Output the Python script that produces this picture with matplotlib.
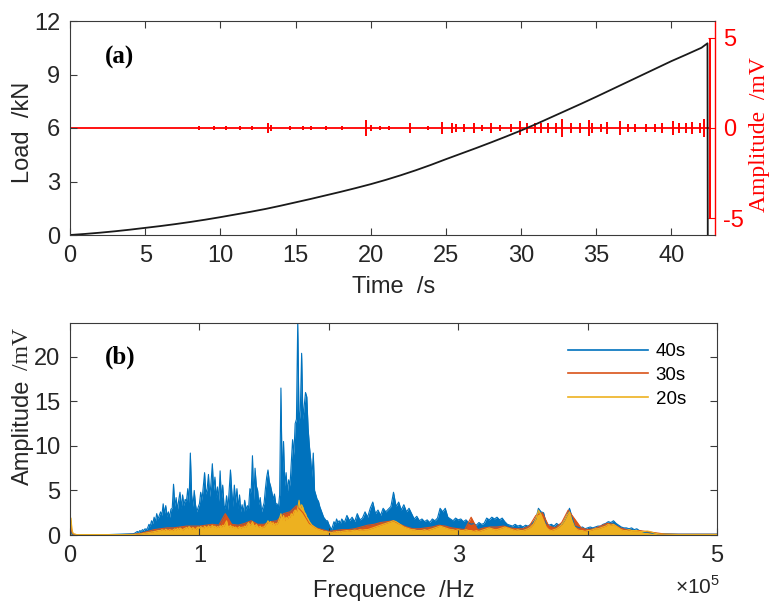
import numpy as np
import matplotlib
matplotlib.use("Agg")
import matplotlib.pyplot as plt
from matplotlib.lines import Line2D

plt.rcParams['font.family'] = ['Liberation Sans', 'DejaVu Sans']
plt.rcParams['axes.unicode_minus'] = False
plt.rcParams['mathtext.fontset'] = 'custom'
plt.rcParams['mathtext.rm'] = 'Liberation Sans'

# ---------------- (a) load / AE amplitude vs time ----------------
time_s = [0, 1, 2, 3, 4, 5, 6, 7, 8, 9, 10, 11, 12, 13, 14, 15, 16, 17, 18, 19, 20,
          21, 22, 23, 24, 25, 26, 27, 28, 29, 30, 31, 32, 33, 34, 35, 36, 37, 38, 39,
          40, 41, 42, 42.4, 42.42]
load_kN = [0.0, 0.06, 0.13, 0.21, 0.30, 0.40, 0.50, 0.61, 0.73, 0.86, 1.00, 1.15, 1.30,
           1.46, 1.64, 1.83, 2.02, 2.22, 2.42, 2.63, 2.85, 3.09, 3.35, 3.63, 3.93, 4.25,
           4.56, 4.87, 5.19, 5.52, 5.86, 6.22, 6.60, 6.98, 7.36, 7.75, 8.15, 8.55, 8.95,
           9.35, 9.75, 10.12, 10.50, 10.75, -0.5]

burst_t = [8.6, 9.6, 10.4, 11.3, 12.1, 13.2, 13.4, 14.6, 15.5, 16.0, 17.0, 18.1, 19.7,
           20.0, 20.6, 21.2, 22.6, 23.8, 24.75, 25.4, 25.7, 26.2, 26.9, 27.4, 28.0, 28.6,
           29.3, 29.9, 30.4, 30.9, 31.3, 31.8, 32.3, 32.7, 33.3, 33.9, 34.5, 34.7, 35.3,
           35.7, 36.6, 37.1, 37.6, 38.3, 38.9, 39.4, 40.1, 40.5, 41.0, 41.4, 41.9, 42.2,
           42.58]
burst_mV = [0.1, 0.1, 0.1, 0.1, 0.1, 0.25, 0.15, 0.1, 0.1, 0.1, 0.1, 0.1, 0.45,
            0.15, 0.1, 0.1, 0.3, 0.1, 0.35, 0.25, 0.2, 0.2, 0.25, 0.15, 0.25, 0.15,
            0.2, 0.4, 0.3, 0.3, 0.25, 0.3, 0.25, 0.5, 0.3, 0.25, 0.45, 0.3, 0.2,
            0.35, 0.4, 0.2, 0.2, 0.2, 0.2, 0.25, 0.4, 0.3, 0.3, 0.35, 0.3, 0.5,
            5.0]
signal_end_s = 42.58

# ---------------- (b) spectra ----------------
F_START = [0.0, 0.008, 0.015, 0.025, 0.05, 0.1, 0.2, 0.3, 0.4, 0.49]
F_LO = np.arange(50, 210) / 100.0          # 0.50 ... 2.09 (x1e5 Hz)
F_HI = np.arange(105, 230) * 0.02          # 2.10 ... 4.58
F_END = [4.7, 4.8, 4.9, 5.0]
F_COARSE = np.arange(10, 93) * 0.05        # 0.50 ... 4.60

A40_START = [0.3, 0.4, 0.1, 0.05, 0.05, 0.05, 0.05, 0.05, 0.1, 0.15]
A40_LO = [0.2, 0.3, 0.4, 0.3, 0.5, 0.4, 0.6, 0.5, 0.7, 0.6,
          0.8, 1.2, 1.0, 1.6, 1.3, 2.0, 1.5, 2.4, 1.8, 2.2,
          2.6, 2.2, 3.5, 2.4, 3.3, 2.1, 2.6, 2.0, 2.9, 3.0,
          5.7, 3.2, 4.2, 2.8, 3.9, 4.8, 3.0, 4.5, 3.3, 4.0,
          3.8, 5.2, 3.6, 9.2, 4.5, 3.2, 5.0, 3.4, 2.6, 3.1,
          3.5, 4.8, 3.9, 5.5, 7.0, 4.6, 5.2, 6.8, 4.3, 5.9,
          8.0, 5.0, 6.5, 4.2, 5.4, 3.8, 7.2, 4.0, 5.6, 3.3,
          3.0, 4.4, 2.8, 5.0, 7.3, 4.9, 3.2, 5.6, 3.6, 5.2,
          3.0, 4.5, 2.6, 3.4, 2.5, 3.9, 2.8, 3.3, 3.0, 5.2,
          4.8, 8.9, 3.9, 7.5, 5.5, 5.0, 3.4, 4.2, 2.6, 3.1,
          3.6, 5.2, 6.5, 7.3, 6.0, 5.5, 4.8, 4.0, 4.6, 3.5,
          3.5, 3.0, 4.5, 16.5, 6.0, 10.5, 5.5, 7.0, 4.8, 6.2,
          5.5, 8.0, 10.7, 9.0, 12.5, 13.0, 24.0, 12.5, 14.0, 20.4,
          13.0, 14.5, 16.0, 15.5, 12.0, 10.0, 8.5, 6.5, 9.2, 5.0,
          4.5, 4.0, 3.8, 3.2, 2.8, 2.4, 2.0, 1.8, 1.6, 1.6,
          1.2, 0.9, 0.6, 1.0, 1.5, 1.2, 1.8, 1.4, 1.6, 1.3]
A40_HI = [1.8, 1.4, 2.2, 1.6, 2.0, 1.5, 2.4, 1.7, 1.9, 2.6,
          2.0, 3.0, 3.7, 2.4, 2.8, 2.2, 3.0, 2.6, 2.9, 3.2,
          4.8, 3.2, 3.7, 2.8, 3.4, 2.6, 3.0, 2.4, 1.8, 2.1,
          1.6, 1.8, 1.5, 1.7, 1.4, 1.8, 1.6, 1.9, 3.0, 2.6,
          3.0, 2.0, 1.8, 1.6, 1.9, 1.7, 1.8, 1.5, 1.7, 1.4,
          1.2, 1.3, 1.1, 1.4, 1.2, 1.3, 1.9, 1.7, 2.0, 1.8,
          2.0, 1.7, 1.9, 1.5, 1.2, 1.1, 1.0, 1.2, 1.0, 1.1,
          0.9, 1.1, 1.0, 1.2, 1.4, 1.8, 3.0, 2.6, 2.5, 1.3,
          1.1, 1.2, 1.0, 1.3, 1.1, 1.2, 1.6, 2.2, 3.0, 2.0,
          1.0, 0.9, 0.8, 0.9, 0.7, 0.8, 0.9, 0.8, 0.9, 1.0,
          1.0, 1.2, 1.3, 1.5, 1.4, 1.6, 1.3, 1.1, 0.9, 0.8,
          0.8, 0.7, 0.8, 0.6, 0.7, 0.5, 0.4, 0.3, 0.3, 0.25,
          0.2, 0.2, 0.15, 0.15, 0.15]
A40_END = [0.1, 0.1, 0.1, 0.1]

A30_START = [0.6, 1.2, 0.3, 0.1, 0.05, 0.05, 0.05, 0.05, 0.05, 0.08]
A30_COARSE = [0.1, 0.2, 0.4, 0.6, 0.7, 0.8, 0.8, 0.9, 1.0, 1.0,
              1.0, 1.1, 1.2, 1.1, 2.4, 1.2, 1.1, 1.3, 1.6, 1.2,
              1.2, 1.5, 1.6, 2.4, 2.6, 3.3, 2.5, 1.3, 0.8, 0.6,
              0.4, 0.5, 0.6, 0.6, 0.7, 0.9, 1.1, 1.2, 1.4, 1.5,
              1.6, 1.2, 0.9, 0.7, 0.7, 0.8, 0.9, 1.1, 1.0, 0.8,
              0.7, 0.6, 2.0, 0.6, 0.8, 0.9, 0.9, 1.0, 0.8, 0.7,
              0.7, 1.0, 2.2, 2.5, 1.0, 0.8, 1.4, 2.8, 1.8, 0.8,
              0.6, 0.7, 1.0, 1.3, 1.2, 0.8, 0.6, 0.5, 0.5, 0.4,
              0.3, 0.2, 0.1]
A30_END = [0.08, 0.08, 0.08, 0.08]

A20_START = [1.0, 1.9, 0.6, 0.15, 0.05, 0.05, 0.05, 0.05, 0.05, 0.05]
A20_LO = [0.05, 0.08, 0.1, 0.1, 0.12, 0.15, 0.15, 0.2, 0.2, 0.25,
          0.25, 0.3, 0.3, 0.35, 0.35, 0.4, 0.4, 0.45, 0.5, 0.5,
          0.5, 0.6, 0.55, 0.5, 0.65, 0.55, 0.5, 0.6, 0.55, 0.5,
          0.6, 0.7, 0.55, 0.75, 0.6, 0.8, 0.7, 0.55, 0.7, 0.75,
          0.85, 0.7, 0.95, 0.8, 0.65, 0.85, 0.7, 0.6, 0.8, 0.9,
          0.8, 0.95, 0.85, 0.7, 1.0, 0.9, 0.8, 1.05, 0.85, 0.95,
          1.1, 0.9, 1.0, 0.8, 0.95, 0.85, 1.05, 0.9, 1.1, 1.0,
          1.3, 1.6, 1.0, 0.9, 1.1, 0.85, 0.95, 0.8, 0.9, 0.75,
          0.8, 0.95, 0.75, 0.9, 0.85, 1.0, 0.9, 1.2, 1.4, 1.1,
          1.2, 1.5, 1.1, 1.0, 1.2, 0.95, 0.85, 1.0, 0.8, 0.9,
          0.9, 1.1, 1.3, 1.6, 1.3, 1.5, 1.2, 1.4, 1.1, 1.3,
          1.2, 1.5, 1.9, 2.4, 1.7, 2.2, 1.6, 2.0, 1.8, 2.1,
          2.0, 2.4, 2.2, 2.6, 2.8, 2.6, 3.0, 3.9, 3.0, 3.4,
          3.1, 2.6, 2.4, 2.0, 1.8, 1.5, 1.3, 1.1, 1.0, 0.9,
          0.8, 0.7, 0.6, 0.6, 0.5, 0.5, 0.4, 0.4, 0.4, 0.35,
          0.3, 0.3, 0.25, 0.3, 0.35, 0.3, 0.4, 0.35, 0.4, 0.35]
A20_HI = [0.4, 0.45, 0.5, 0.45, 0.5, 0.55, 0.5, 0.6, 0.55, 0.6,
          0.6, 0.7, 0.8, 0.9, 1.0, 1.1, 1.2, 1.3, 1.4, 1.5,
          1.6, 1.5, 1.3, 1.1, 0.9, 0.8, 0.7, 0.6, 0.6, 0.5,
          0.5, 0.5, 0.6, 0.5, 0.6, 0.7, 0.8, 0.9, 1.0, 0.9,
          0.8, 0.7, 0.6, 0.6, 0.5, 0.6, 0.5, 0.5, 0.6, 0.5,
          0.5, 0.4, 0.5, 0.4, 0.5, 0.6, 0.7, 0.8, 0.7, 0.6,
          0.6, 0.7, 0.8, 0.9, 0.8, 0.7, 0.6, 0.5, 0.6, 0.5,
          0.5, 0.6, 0.7, 0.9, 1.2, 1.8, 2.8, 2.3, 1.6, 0.9,
          0.6, 0.5, 0.6, 0.7, 0.9, 1.2, 1.6, 2.2, 2.6, 1.6,
          0.9, 0.6, 0.5, 0.5, 0.4, 0.5, 0.5, 0.6, 0.7, 0.7,
          0.8, 0.9, 1.0, 1.2, 1.1, 1.2, 1.0, 0.8, 0.6, 0.5,
          0.5, 0.6, 0.5, 0.5, 0.5, 0.4, 0.4, 0.4, 0.45, 0.4,
          0.3, 0.2, 0.15, 0.1, 0.1]
A20_END = [0.05, 0.05, 0.05, 0.05]

series_labels = ['40s', '30s', '20s']
series_colors = ['#0072BD', '#D95319', '#EDB120']

# ---------------- figure ----------------
W, H = 773, 601
fig = plt.figure(figsize=(W / 100, H / 100), dpi=100)

def frac_box(x0, y0, x1, y1):
    return [x0 / W, 1 - y1 / H, (x1 - x0) / W, (y1 - y0) / H]

spine_c = '#3a3a3a'
tick_c = '#262626'
FS = 17

ax1 = fig.add_axes(frac_box(70, 21, 715, 235))
ax1r = ax1.twinx()
ax1.set_zorder(ax1r.get_zorder() + 1)
ax1.patch.set_visible(False)

# red signal (right axis)
ax1r.plot([0, signal_end_s], [0, 0], color='red', lw=1.3)
ax1r.vlines(burst_t, [-a for a in burst_mV], burst_mV, color='red', lw=1.4)
ax1r.set_ylim(-5.94, 5.94)
ax1r.set_yticks([-5, 0, 5])
ax1r.tick_params(axis='y', direction='in', length=5, colors='red', labelsize=FS, pad=6)
for s in ['left', 'top', 'bottom']:
    ax1r.spines[s].set_visible(False)
ax1r.spines['right'].set_color('red')
ax1r.spines['right'].set_linewidth(1.0)

# load (left axis)
ax1.plot(time_s, load_kN, color='#1a1a1a', lw=1.3)
ax1.set_xlim(0, 42.9)
ax1.set_ylim(0, 12)
ax1.set_xticks([0, 5, 10, 15, 20, 25, 30, 35, 40])
ax1.set_yticks([0, 3, 6, 9, 12])
ax1.tick_params(direction='in', length=5, top=True, right=False, colors=spine_c,
                labelcolor=tick_c, labelsize=FS, pad=7)
ax1.spines['right'].set_visible(False)
for s in ['left', 'top', 'bottom']:
    ax1.spines[s].set_color(spine_c)
ax1.text(0.054, 0.83, '(a)', transform=ax1.transAxes, fontsize=18, fontweight='bold',
         family='Liberation Serif', va='center', ha='left')

# ---------------- (b) ----------------
ax2 = fig.add_axes(frac_box(70, 323, 717, 535))
f40 = np.concatenate([F_START, F_LO, F_HI, F_END])
a40 = np.concatenate([A40_START, A40_LO, A40_HI, A40_END])
f30 = np.concatenate([F_START, F_COARSE, F_END])
a30 = np.concatenate([A30_START, A30_COARSE, A30_END])
f20 = np.concatenate([F_START, F_LO, F_HI, F_END])
a20 = np.concatenate([A20_START, A20_LO, A20_HI, A20_END])

for (f, a), lab, col in zip([(f40, a40), (f30, a30), (f20, a20)], series_labels, series_colors):
    ax2.fill_between(f, 0, a, color=col, lw=0)
    ax2.plot(f, a, color=col, lw=0.8, label=lab)

ax2.set_xlim(0, 5)
ax2.set_ylim(0, 23.8)
ax2.set_xticks([0, 1, 2, 3, 4, 5])
ax2.set_yticks([0, 5, 10, 15, 20])
ax2.tick_params(direction='in', length=5, top=True, right=True, colors=spine_c,
                labelcolor=tick_c, labelsize=FS, pad=7)
for s in ax2.spines.values():
    s.set_color(spine_c)

handles = [Line2D([], [], color=c, lw=1.2) for c in series_colors]
ax2.legend(handles, series_labels, loc='upper right', bbox_to_anchor=(0.952, 0.905),
           frameon=False, fontsize=13.5, handlelength=4.3, handletextpad=0.4,
           labelspacing=0.35, borderpad=0, borderaxespad=0)
ax2.text(0.054, 0.84, '(b)', transform=ax2.transAxes, fontsize=18, fontweight='bold',
         family='Liberation Serif', va='center', ha='left')
ax2.text(1.005, -0.297, r'$\times10^5$', transform=ax2.transAxes, ha='right', va='bottom',
         fontsize=15, color=tick_c)

# axis labels
fig.text(393.5 / W, 1 - 293 / H, 'Time  /s', ha='center', va='baseline', fontsize=FS, color=tick_c)
fig.text(394 / W, 1 - 597 / H, 'Frequence  /Hz', ha='center', va='baseline', fontsize=FS, color=tick_c)
fig.text(23 / W, 1 - 132 / H, 'Load  /kN', rotation=90, ha='center', va='center', fontsize=FS, color=tick_c)
fig.text(23 / W, 1 - 432 / H, 'Amplitude', rotation=90, ha='center', va='center', fontsize=FS, color=tick_c)
fig.text(23 / W, 1 - 349 / H, '/mV', rotation=90, ha='center', va='center', fontsize=FS,
         family='Liberation Serif', color=tick_c)
fig.text(760 / W, 1 - 135 / H, 'Amplitude  /mV', rotation=90, ha='center', va='center',
         fontsize=FS, family='Liberation Serif', color='red')

fig.savefig('out.png', dpi=100)
